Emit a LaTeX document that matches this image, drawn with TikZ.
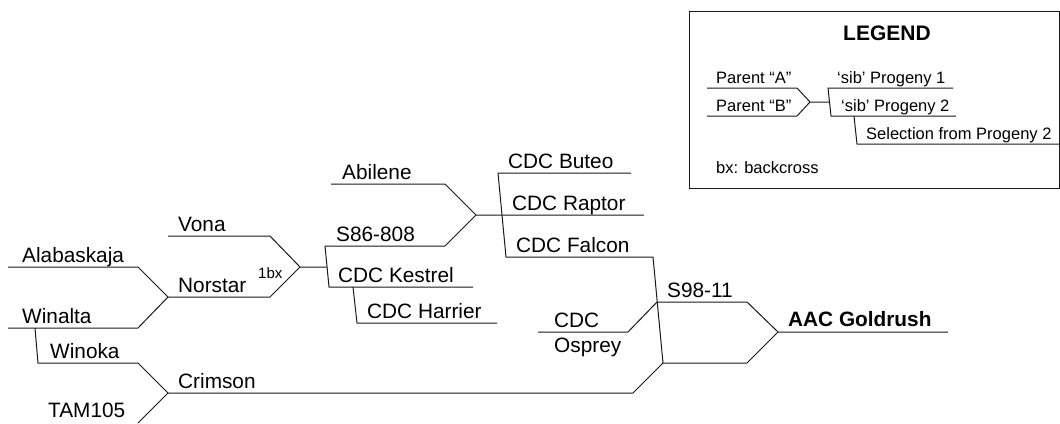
\documentclass[tikz,border=0pt]{standalone}
\usepackage{fontspec}
\setmainfont{Liberation Sans}
\usetikzlibrary{positioning}
\tikzset{lbl/.style={anchor=base west, inner sep=0pt, font=\fontsize{20.8}{24}\selectfont},
bxlbl/.style={lbl, font=\fontsize{15}{17}\selectfont},
leg/.style={lbl, font=\fontsize{16.5}{19}\selectfont},
ped/.style={draw=black!90, line width=1pt, line join=miter}}

\begin{document}
\begin{tikzpicture}[x=1pt,y=-1pt]
  \useasboundingbox (0,0) rectangle (1060,423);
  % joints of the pedigree
  \coordinate (alaS) at (8,267);   \coordinate (alaE) at (138,267);
  \coordinate (winS) at (8,328);   \coordinate (winE) at (138,328);
  \coordinate (winB) at (35,328);
  \coordinate (wokS) at (38,363);  \coordinate (wokE) at (138,363);
  \coordinate (tamE) at (138,423);
  \coordinate (norS) at (168,297); \coordinate (norE) at (270,297);
  \coordinate (vonS) at (168,236); \coordinate (vonE) at (270,236);
  \coordinate (crmS) at (168,393); \coordinate (crmE) at (633,393);
  \coordinate (bx1)  at (300,267); \coordinate (bx1o) at (327,267);
  \coordinate (s86S) at (325,246); \coordinate (s86E) at (445,246);
  \coordinate (kesS) at (329,287); \coordinate (kesE) at (473,287);
  \coordinate (harB) at (353,287);
  \coordinate (harS) at (357,323); \coordinate (harE) at (497,323);
  \coordinate (abiS) at (331,184); \coordinate (abiE) at (445,184);
  \coordinate (rapS) at (476,215); \coordinate (rapE) at (644,215);
  \coordinate (butS) at (498,173); \coordinate (butE) at (631,173);
  \coordinate (falS) at (506,257); \coordinate (falE) at (653,257);
  \coordinate (falB) at (663,363);
  \coordinate (ospS) at (538,332); \coordinate (ospE) at (628,332);
  \coordinate (s98S) at (657,302); \coordinate (s98E) at (747,302);
  \coordinate (botE) at (747,363);
  \coordinate (aacS) at (778,332); \coordinate (aacE) at (948,332);

  \draw [ped] (alaS) -- (alaE) -- (norS);
  \draw [ped] (winS) -- (winE) -- (norS);
  \draw [ped] (winB) -- (wokS) -- (wokE) -- (crmS);
  \draw [ped] (tamE) -- (crmS);
  \draw [ped] (vonS) -- (vonE) -- (bx1);
  \draw [ped] (norS) -- (norE) -- (bx1) -- (bx1o);
  \draw [ped] (s86S) -- (kesS) -- (kesE);
  \draw [ped] (harB) -- (harS) -- (harE);
  \draw [ped] (s86S) -- (s86E) -- (rapS);
  \draw [ped] (abiS) -- (abiE) -- (rapS) -- (rapE);
  \draw [ped] (butE) -- (butS) -- (falS) -- (falE) -- (falB);
  \draw [ped] (crmS) -- (crmE) -- (falB);
  \draw [ped] (ospS) -- (ospE) -- (s98S);
  \draw [ped] (s98S) -- (s98E) -- (aacS);
  \draw [ped] (falB) -- (botE) -- (aacS) -- (aacE);

  \node (vona) [lbl] at (178,231) {Vona};
  \node (alab) [lbl] at (22,262) {Alabaskaja};
  \node (nors) [lbl] at (178,292) {Norstar};
  \node (onebx) [bxlbl] at (258,278) {1bx};
  \node (wina) [lbl] at (22,323) {Winalta};
  \node (wino) [lbl] at (50,358) {Winoka};
  \node (crim) [lbl] at (178,388) {Crimson};
  \node (tam) [lbl] at (48,417) {TAM105};
  \node (abil) [lbl] at (342,179) {Abilene};
  \node (s86) [lbl] at (336,241) {S86-808};
  \node (kest) [lbl] at (338,282) {CDC Kestrel};
  \node (harr) [lbl] at (367,318) {CDC Harrier};
  \node (bute) [lbl] at (508,168) {CDC Buteo};
  \node (rapt) [lbl] at (512,210) {CDC Raptor};
  \node (falc) [lbl] at (516,252) {CDC Falcon};
  \node (s98) [lbl] at (667,297) {S98-11};
  \node (osp1) [lbl] at (554,327) {CDC};
  \node (osp2) [lbl] at (554,352) {Osprey};
  \node (gold) [lbl, font=\fontsize{20.8}{24}\selectfont\bfseries] at (788,326) {AAC Goldrush};

  % legend
  \draw [ped] (689,11) rectangle (1059.5,188);
  \coordinate (paS) at (707,88);  \coordinate (paE) at (797,88);
  \coordinate (pbS) at (707,116); \coordinate (pbE) at (797,116);
  \coordinate (lx)  at (810,102); \coordinate (lxo) at (829,102);
  \coordinate (p1S) at (828,88);  \coordinate (p1E) at (953,88);
  \coordinate (p2S) at (831,116); \coordinate (p2E) at (956,116);
  \coordinate (selB) at (854,116);
  \coordinate (selS) at (857,144); \coordinate (selE) at (1060,144);
  \draw [ped] (paS) -- (paE) -- (lx) -- (lxo);
  \draw [ped] (pbS) -- (pbE) -- (lx);
  \draw [ped] (p1E) -- (p1S) -- (p2S) -- (p2E);
  \draw [ped] (selB) -- (selS) -- (selE);

  \node (legt) [lbl, font=\fontsize{21}{24}\selectfont\bfseries] at (843,40) {LEGEND};
  \node (legA) [leg] at (716,83) {Parent “A”};
  \node (legB) [leg] at (716,111) {Parent “B”};
  \node (leg1) [leg] at (837,83) {‘sib’ Progeny 1};
  \node (leg2) [leg] at (841,111) {‘sib’ Progeny 2};
  \node (legs) [leg] at (866,139) {Selection from Progeny 2};
  \node (legbx) [leg] at (716,173) {bx: backcross};
\end{tikzpicture}
\end{document}
